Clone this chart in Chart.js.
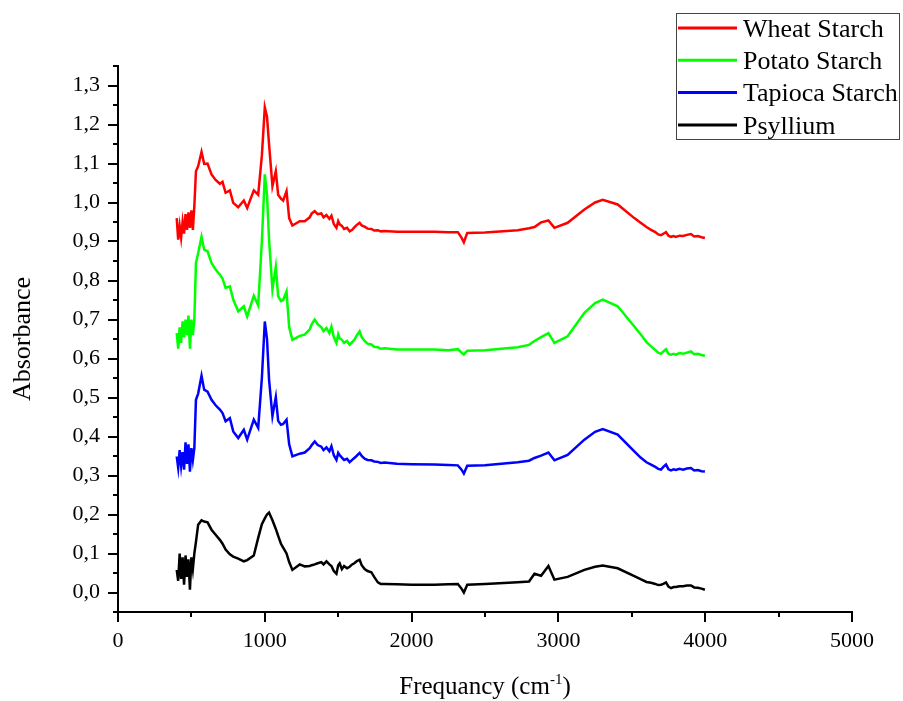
<!DOCTYPE html>
<html>
<head>
<meta charset="utf-8">
<script src="https://cdn.jsdelivr.net/npm/chart.js@4"></script>
<style>
  html, body { margin: 0; padding: 0; background: #fff; }
  #wrap { width: 903px; height: 701px; position: relative; }
</style>
</head>
<body>
<div id="wrap"><canvas id="c" width="903" height="701"></canvas></div>
<script>
// Wavenumbers (cm-1) shared by all spectra
const wavenumbers = [400,410,420,430,440,450,460,470,480,490,500,510,520,531,546,569,587,610,637,665,694,712,733,762,785,819,857,880,925,955,980,1000,1015,1029,1052,1075,1091,1110,1125,1148,1166,1188,1238,1272,
  1306,1320,1340,1360,1385,1400,1420,1440,1454,1470,1488,1500,1510,1525,1540,1560,1578,1595,1610,1625,1646,1660,1680,1700,1726,1745,1770,1790,1816,
  1900,2000,2156,2250,2315,2340,2356,2379,2500,2723,2800,2837,2882,2932,2973,3063,3177,3250,3302,3404,
  3517,3560,3600,3631,3660,3680,3699,3715,3733,3750,3767,3785,3800,3825,3850,3875,3903,3925,3950,3975,3998];

const seriesNames = ['Wheat Starch', 'Potato Starch', 'Tapioca Starch', 'Psyllium'];
const seriesColors = ['#ff0000', '#00ff00', '#0000ff', '#000000'];

const wheat = [0.96,0.905,0.94,0.91,0.95,0.92,0.97,0.93,0.975,0.935,0.98,0.93,0.99,1.08,1.093,1.13,1.099,1.10,1.072,1.058,1.048,1.053,1.025,1.031,0.999,0.988,1.005,0.986,1.031,1.02,1.12,1.244,1.22,1.149,1.042,1.08,1.02,1.01,1.005,1.029,0.96,0.941,0.952,0.952,
  0.962,0.972,0.978,0.970,0.972,0.962,0.968,0.958,0.966,0.945,0.935,0.952,0.944,0.940,0.932,0.935,0.926,0.930,0.936,0.942,0.948,0.941,0.938,0.933,0.932,0.928,0.929,0.926,0.927,
  0.925,0.925,0.925,0.924,0.924,0.91,0.898,0.922,0.923,0.929,0.934,0.937,0.949,0.954,0.935,0.948,0.982,1.000,1.007,0.995,
  0.960,0.948,0.937,0.930,0.924,0.918,0.916,0.920,0.924,0.915,0.912,0.914,0.912,0.915,0.914,0.917,0.919,0.913,0.914,0.911,0.909];

const potato = [0.665,0.625,0.68,0.64,0.695,0.655,0.70,0.66,0.71,0.625,0.70,0.66,0.70,0.845,0.87,0.912,0.879,0.875,0.845,0.828,0.815,0.805,0.781,0.785,0.751,0.721,0.734,0.708,0.761,0.736,0.90,1.072,1.02,0.905,0.777,0.835,0.76,0.747,0.75,0.772,0.68,0.648,0.658,0.661,
  0.675,0.688,0.700,0.688,0.680,0.670,0.678,0.665,0.682,0.655,0.640,0.662,0.652,0.648,0.640,0.645,0.635,0.642,0.648,0.658,0.670,0.655,0.645,0.638,0.636,0.630,0.629,0.625,0.626,
  0.623,0.623,0.623,0.621,0.624,0.615,0.610,0.620,0.621,0.629,0.635,0.645,0.655,0.665,0.640,0.657,0.717,0.742,0.751,0.734,
  0.682,0.662,0.642,0.631,0.622,0.615,0.612,0.618,0.624,0.612,0.610,0.612,0.610,0.614,0.612,0.615,0.618,0.611,0.612,0.609,0.607];

const tapioca = [0.349,0.32,0.365,0.325,0.36,0.315,0.385,0.33,0.38,0.31,0.37,0.34,0.37,0.494,0.51,0.556,0.52,0.515,0.494,0.48,0.469,0.46,0.439,0.447,0.413,0.396,0.417,0.392,0.443,0.422,0.55,0.695,0.65,0.546,0.452,0.501,0.44,0.43,0.432,0.443,0.38,0.349,0.356,0.359,
  0.370,0.378,0.387,0.378,0.374,0.365,0.372,0.362,0.375,0.352,0.340,0.358,0.352,0.346,0.340,0.343,0.334,0.340,0.345,0.350,0.358,0.350,0.343,0.340,0.339,0.336,0.335,0.332,0.333,
  0.330,0.329,0.328,0.327,0.326,0.315,0.305,0.325,0.326,0.334,0.338,0.345,0.351,0.359,0.339,0.353,0.392,0.412,0.419,0.405,
  0.362,0.346,0.334,0.328,0.322,0.317,0.315,0.322,0.328,0.316,0.313,0.316,0.314,0.317,0.315,0.318,0.319,0.313,0.314,0.311,0.310];

const psyllium = [0.058,0.03,0.10,0.035,0.09,0.02,0.095,0.04,0.085,0.007,0.09,0.06,0.10,0.13,0.174,0.185,0.182,0.18,0.161,0.148,0.135,0.125,0.11,0.098,0.092,0.087,0.080,0.083,0.095,0.14,0.175,0.19,0.20,0.205,0.185,0.163,0.145,0.125,0.115,0.100,0.078,0.058,0.072,0.067,
  0.068,0.070,0.072,0.075,0.078,0.072,0.080,0.072,0.068,0.055,0.048,0.070,0.075,0.060,0.068,0.062,0.066,0.072,0.075,0.080,0.084,0.070,0.060,0.055,0.052,0.040,0.026,0.022,0.022,
  0.021,0.020,0.020,0.021,0.022,0.010,0.000,0.020,0.022,0.026,0.028,0.048,0.043,0.068,0.033,0.040,0.058,0.066,0.069,0.062,
  0.042,0.034,0.027,0.025,0.022,0.019,0.020,0.022,0.026,0.015,0.011,0.014,0.014,0.016,0.016,0.018,0.018,0.013,0.012,0.010,0.007];

const yTickValues = [0,0.1,0.2,0.3,0.4,0.5,0.6,0.7,0.8,0.9,1.0,1.1,1.2,1.3];
const xTickValues = [0,1000,2000,3000,4000,5000];
const xTitleMain = 'Frequancy (cm';
const xTitleSup = '-1';
const xTitleEnd = ')';
const yTitle = 'Absorbance';

const allSeries = [wheat, potato, tapioca, psyllium];
const FONT = '"Liberation Serif", "Times New Roman", serif';

const datasets = allSeries.map((vals, i) => ({
  label: seriesNames[i],
  data: wavenumbers.map((w, j) => ({ x: w, y: vals[j] })),
  borderColor: seriesColors[i],
  backgroundColor: seriesColors[i],
  borderWidth: 2.5,
  pointRadius: 0,
  tension: 0,
  fill: false
}));

const extrasPlugin = {
  id: 'extras',
  afterDraw(chart) {
    const ctx = chart.ctx;
    const xs = chart.scales.x, ys = chart.scales.y;
    const ca = chart.chartArea;
    ctx.save();
    // minor ticks
    ctx.strokeStyle = '#000';
    ctx.lineWidth = 2;
    ctx.beginPath();
    for (let k = 0; k < 15; k++) {
      const v = -0.05 + k * 0.1;
      const py = Math.round(ys.getPixelForValue(v));
      ctx.moveTo(ca.left - 5, py);
      ctx.lineTo(ca.left, py);
    }
    for (let k = 0; k < 5; k++) {
      const v = 500 + k * 1000;
      const px = Math.round(xs.getPixelForValue(v));
      ctx.moveTo(px, ca.bottom);
      ctx.lineTo(px, ca.bottom + 5);
    }
    ctx.stroke();

    // x axis title with superscript
    ctx.fillStyle = '#000';
    ctx.textBaseline = 'alphabetic';
    ctx.textAlign = 'left';
    const mainFont = '25px ' + FONT;
    const supFont = '15px ' + FONT;
    ctx.font = mainFont;
    const w1 = ctx.measureText(xTitleMain).width;
    const w3 = ctx.measureText(xTitleEnd).width;
    ctx.font = supFont;
    const w2 = ctx.measureText(xTitleSup).width;
    const total = w1 + w2 + w3;
    let x0 = (ca.left + ca.right) / 2 - total / 2;
    const base = 694;
    ctx.font = mainFont;
    ctx.fillText(xTitleMain, x0, base);
    ctx.font = supFont;
    ctx.fillText(xTitleSup, x0 + w1, base - 10);
    ctx.font = mainFont;
    ctx.fillText(xTitleEnd, x0 + w1 + w2, base);

    // legend
    const lx = 676.5, ly = 13.5, lw = 223, lh = 126;
    ctx.fillStyle = '#fff';
    ctx.fillRect(lx, ly, lw, lh);
    ctx.strokeStyle = '#444';
    ctx.lineWidth = 1;
    ctx.strokeRect(lx, ly, lw, lh);
    ctx.font = '26px ' + FONT;
    chart.data.datasets.forEach((ds, i) => {
      const cy = 28 + i * 32.3;
      ctx.strokeStyle = ds.borderColor;
      ctx.lineWidth = 3;
      ctx.beginPath();
      ctx.moveTo(678, cy);
      ctx.lineTo(737, cy);
      ctx.stroke();
      ctx.fillStyle = '#000';
      ctx.fillText(ds.label, 743, cy + 8.7);
    });
    ctx.restore();
  }
};

new Chart(document.getElementById('c'), {
  type: 'line',
  data: { datasets },
  options: {
    responsive: false,
    animation: false,
    devicePixelRatio: 1,
    layout: { padding: { left: 0, top: 66, right: 51, bottom: 0 } },
    plugins: { legend: { display: false }, tooltip: { enabled: false } },
    scales: {
      x: {
        type: 'linear',
        min: 0, max: 5000,
        afterFit(s) { s.height = 89; },
        afterBuildTicks(s) { s.ticks = xTickValues.map(v => ({ value: v })); },
        border: { display: true, color: '#000', width: 2 },
        grid: { display: true, drawOnChartArea: false, drawTicks: true, tickLength: 10, color: '#000', lineWidth: 2 },
        ticks: { color: '#000', font: { family: FONT, size: 22 }, padding: 6, maxRotation: 0, callback: v => String(v) }
      },
      y: {
        type: 'linear',
        min: -0.05, max: 1.35,
        afterFit(s) { s.width = 118; },
        afterBuildTicks(s) { s.ticks = yTickValues.map(v => ({ value: v })); },
        border: { display: true, color: '#000', width: 2 },
        grid: { display: true, drawOnChartArea: false, drawTicks: true, tickLength: 10, color: '#000', lineWidth: 2 },
        ticks: { color: '#000', font: { family: FONT, size: 22 }, padding: 8, callback: v => Number(v).toFixed(1).replace('.', ',') },
        title: { display: true, text: yTitle, color: '#000', font: { family: FONT, size: 26 }, padding: { top: 8, bottom: 0 } }
      }
    }
  },
  plugins: [extrasPlugin]
});
</script>
</body>
</html>
